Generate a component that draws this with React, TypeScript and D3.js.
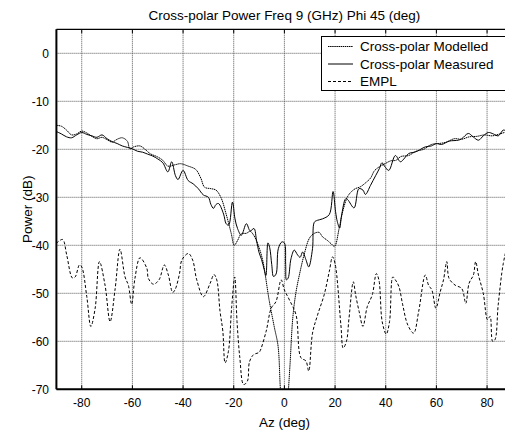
import React from "react";
import * as d3 from "d3";

// ---- data ----
const xTicks = [-80, -60, -40, -20, 0, 20, 40, 60, 80];
const yTicks = [0, -10, -20, -30, -40, -50, -60, -70];

const modelledAz = [-90, -88, -86, -84, -82, -80, -78, -76, -74, -72, -70, -68, -66, -64, -62, -61, -59.5, -57, -55, -53, -50, -48, -46, -43, -41, -38, -35, -33, -31.5, -29, -27, -25, -23, -21, -19.8, -18.5, -17, -15, -13.5, -12, -10, -8.5, -6, -4, -2.5, -1.5, 0, 1.3, 2.2, 3.3, 4.5, 5.9, 8, 9.8, 11.5, 13.7, 15, 17, 18.5, 19.8, 21.6, 23, 24.9, 26.5, 28, 30, 32, 34, 35.5, 37.3, 39.7, 42, 44, 46, 49, 52, 55, 58, 61, 64, 67, 70, 73, 76, 79, 82, 85, 88, 90];
const modelledDb = [-15.0, -15.2, -16.0, -17.0, -16.8, -16.2, -16.6, -17.3, -17.8, -17.5, -18.0, -18.5, -17.9, -17.6, -18.3, -19.9, -19.5, -19.3, -20.0, -20.9, -21.6, -22.3, -23.5, -23.2, -23.0, -23.5, -24.2, -26.0, -27.9, -28.2, -28.5, -30.1, -33.5, -37.5, -40.0, -39.0, -37.6, -37.5, -37.1, -38.0, -40.5, -43.3, -51.5, -57.0, -61.0, -70.5, -78, -72, -65, -55.2, -50.0, -46.2, -41.5, -38.6, -37.6, -37.3, -38.2, -39.0, -39.7, -40.2, -36.5, -33.0, -29.9, -28.8, -28.2, -27.8, -27.0, -26.0, -24.5, -23.7, -23.0, -22.4, -22.3, -21.5, -21.3, -20.4, -20.0, -19.0, -18.8, -18.5, -17.8, -17.9, -17.4, -17.3, -17.0, -17.2, -16.8, -16.4, -16.7];

const measuredAz = [-90, -88, -86, -84, -82, -80, -78, -76, -74, -72, -70, -68, -66, -64, -62, -60, -58, -56, -54, -52, -50, -48, -46, -44.5, -43, -42, -40, -38, -36, -34, -32, -30, -29, -28, -27, -26, -24, -23, -22, -20.5, -19.5, -18.5, -17, -15, -13.5, -12, -11, -10, -9, -8, -7.3, -6.5, -5.8, -5, -4.3, -3.3, -2.4, -1, 0, 0.5, 0.8, 1.5, 2.6, 3.9, 5.2, 6.2, 7.2, 8.5, 9.6, 11.1, 11.8, 13, 15, 17.7, 19.2, 20.2, 20.9, 21.8, 22.5, 24.2, 25, 27.5, 29.4, 31, 32, 34, 36, 37.5, 38.5, 39.5, 41.2, 43.8, 45.8, 47.5, 49, 52, 55.6, 58, 60, 62, 65, 68.7, 70, 72.6, 74.5, 76.6, 78.5, 80.5, 82.5, 84.4, 86.4, 88, 90];
const measuredDb = [-16.3, -16.8, -17.4, -17.6, -17.0, -16.5, -16.9, -17.2, -17.5, -17.0, -17.8, -18.4, -18.8, -19.3, -19.6, -19.9, -20.4, -20.6, -21.0, -21.4, -22.0, -22.8, -24.7, -22.6, -25.5, -26.3, -24.4, -26.5, -27.2, -28.2, -29.5, -30.0, -31.5, -32.3, -31.5, -31.3, -33.5, -35.5, -35.8, -31.0, -34.5, -36.5, -37.9, -35.5, -37.0, -36.5, -39.0, -41.5, -43.0, -45.0, -46.3, -39.5, -40.5, -44.0, -46.5, -46.0, -40.7, -39.3, -39.5, -44.0, -47.2, -46.8, -42.8, -41.0, -42.0, -42.5, -41.4, -43.0, -44.5, -40.7, -35.2, -34.8, -34.5, -33.6, -28.8, -33.0, -35.1, -36.4, -34.0, -30.3, -30.5, -32.2, -28.2, -28.5, -29.4, -27.5, -25.5, -24.0, -22.8, -23.5, -24.4, -21.3, -22.6, -21.8, -20.9, -20.5, -19.5, -19.3, -18.8, -19.0, -18.3, -18.1, -17.8, -16.7, -17.4, -18.1, -17.2, -16.5, -16.8, -17.2, -16.0, -16.3, -16.5];

const emplAz = [-90, -89.2, -87.5, -85.9, -83.7, -82.6, -80.9, -80, -78, -76.4, -74.7, -73, -70.8, -68.8, -66.8, -64.9, -62.9, -61.6, -60.3, -59, -57, -54.3, -53.7, -51.7, -49.5, -47.4, -45.8, -44.1, -43.2, -41.4, -40.5, -37.9, -36.2, -34.6, -32, -29.3, -27.8, -26.7, -25.4, -24.3, -23.4, -22.1, -20.8, -19.6, -18.7, -17.6, -16.1, -14.6, -13.8, -12.2, -10.3, -9.8, -7.2, -5.2, -3.3, -1.3, 0, 2, 4.6, 6.5, 8.5, 9.6, 11.1, 13.1, 15.7, 17.7, 19, 20, 22.3, 23.2, 24.5, 25.5, 27.2, 28.1, 29.5, 31, 32.7, 34.7, 36.3, 37.3, 38.6, 40.2, 41.5, 42.8, 43.8, 45.2, 46.7, 48.7, 51, 53, 55.6, 56.9, 58.2, 59.8, 61.5, 62.8, 64.1, 65, 67.4, 70, 71.6, 72.9, 74.6, 75.5, 76.6, 78.5, 80.2, 81.2, 82.2, 83.1, 84.4, 86.4, 88, 90];
const emplDb = [-39.6, -39.2, -38.8, -42.1, -46.8, -46.6, -44.1, -44.5, -50.7, -56.9, -53.1, -43.4, -48.3, -55.9, -49.0, -40.8, -46.6, -48.3, -52.3, -46.9, -42.6, -44.8, -46.9, -48.1, -47.2, -44.1, -46.2, -49.8, -49.3, -45.9, -43.1, -41.7, -43.1, -47.2, -50.7, -47.9, -46.1, -47.2, -53.8, -57.9, -64.5, -62.1, -52.8, -46.6, -55.9, -63.4, -69.0, -68.3, -64.3, -62.8, -62.4, -62.2, -57.9, -53.1, -51.7, -47.2, -49.3, -51.4, -54.5, -63.4, -64.1, -66.2, -58.3, -54.5, -50.3, -45.5, -42.4, -43.8, -56.6, -61.4, -60.0, -55.2, -47.6, -50.3, -53.8, -56.9, -52.8, -50.3, -45.9, -47.2, -55.9, -58.5, -55.9, -46.6, -47.2, -48.6, -52.4, -56.6, -58.3, -53.8, -46.2, -48.3, -49.3, -53.1, -49.7, -47.2, -43.4, -46.9, -48.3, -49.0, -52.1, -47.9, -46.2, -43.4, -46.2, -50.0, -55.5, -54.8, -60.0, -59.7, -52.4, -43.8, -40.5, -39.0];

const legendLabels = ["Cross-polar Modelled", "Cross-polar Measured", "EMPL"];

const W = 505;
const H = 430;
const L = 56.4;
const R = 512.4;
const T = 29.3;
const B = 389.3;
const font = "'Liberation Sans', Arial, sans-serif";

export default function App() {
  const x = d3.scaleLinear().domain([-90, 90]).range([L, R]);
  const y = d3.scaleLinear().domain([-70, 5]).range([B, T]);

  const mk = (az: number[], db: number[]) =>
    d3
      .line<number>()
      .x((_, i) => x(az[i]))
      .y((_, i) => y(db[i]))
      .curve(d3.curveCatmullRom.alpha(0.5))(db.map((_, i) => i)) || "";

  const series = [
    { path: mk(modelledAz, modelledDb), dash: "1.5 0.6", w: 1 },
    { path: mk(measuredAz, measuredDb), dash: "none", w: 1 },
    { path: mk(emplAz, emplDb), dash: "3 2", w: 1 },
  ];

  return (
    <svg
      width={W}
      height={H}
      style={{ position: "absolute", left: 0, top: 0, background: "#fff" }}
      fontFamily={font}
    >
      <rect x={0} y={0} width={W} height={H} fill="#fff" />
      <defs>
        <clipPath id="plotClip">
          <rect x={L} y={T} width={R - L} height={B - T} />
        </clipPath>
      </defs>
      {/* grid */}
      {xTicks.map((t) => (
        <line key={"gx" + t} x1={x(t)} x2={x(t)} y1={T} y2={B} stroke="#555" strokeDasharray="1 1" strokeWidth={1} />
      ))}
      {yTicks.map((t) => (
        <line key={"gy" + t} x1={L} x2={R} y1={y(t)} y2={y(t)} stroke="#555" strokeDasharray="1 1" strokeWidth={1} />
      ))}
      {/* ticks top/bottom */}
      {xTicks.map((t) => (
        <g key={"tk" + t}>
          <line x1={x(t)} x2={x(t)} y1={T} y2={T + 4} stroke="#000" />
          <line x1={x(t)} x2={x(t)} y1={B} y2={B - 4} stroke="#000" />
        </g>
      ))}
      {/* series */}
      <g clipPath="url(#plotClip)">
        {series.map((s, i) => (
          <path key={i} d={s.path} fill="none" stroke="#000" strokeWidth={s.w} strokeDasharray={s.dash} />
        ))}
      </g>
      {/* axes */}
      <line x1={L} x2={R} y1={T} y2={T} stroke="#000" strokeWidth={1.2} />
      <line x1={L} x2={L} y1={T} y2={B} stroke="#000" strokeWidth={2} />
      <line x1={L} x2={R} y1={B} y2={B} stroke="#000" strokeWidth={2} />
      {/* tick labels */}
      {yTicks.map((t) => (
        <text key={"yl" + t} x={49} y={y(t)} dy="0.35em" textAnchor="end" fontSize={12}>
          {t}
        </text>
      ))}
      {xTicks.map((t) => (
        <text key={"xl" + t} x={x(t)} y={403} dy="0.35em" textAnchor="middle" fontSize={12}>
          {t}
        </text>
      ))}
      {/* titles */}
      <text x={(L + R) / 2} y={15} dy="0.35em" textAnchor="middle" fontSize={13.5}>
        Cross-polar Power Freq 9 (GHz) Phi 45 (deg)
      </text>
      <text x={(L + R) / 2} y={422} dy="0.35em" textAnchor="middle" fontSize={13.5}>
        Az (deg)
      </text>
      <text transform={`translate(27,${(T + B) / 2}) rotate(-90)`} dy="0.35em" textAnchor="middle" fontSize={13.5}>
        Power (dB)
      </text>
      {/* legend */}
      <rect x={321.5} y={36.5} width={200} height={54} fill="#fff" stroke="#000" strokeWidth={1} />
      {legendLabels.map((lab, i) => {
        const yy = 46.5 + i * 17.5;
        return (
          <g key={lab}>
            <line x1={328} x2={353} y1={yy} y2={yy} stroke="#000" strokeDasharray={series[i].dash} />
            <text x={360} y={yy} dy="0.35em" fontSize={13.5}>
              {lab}
            </text>
          </g>
        );
      })}
    </svg>
  );
}
